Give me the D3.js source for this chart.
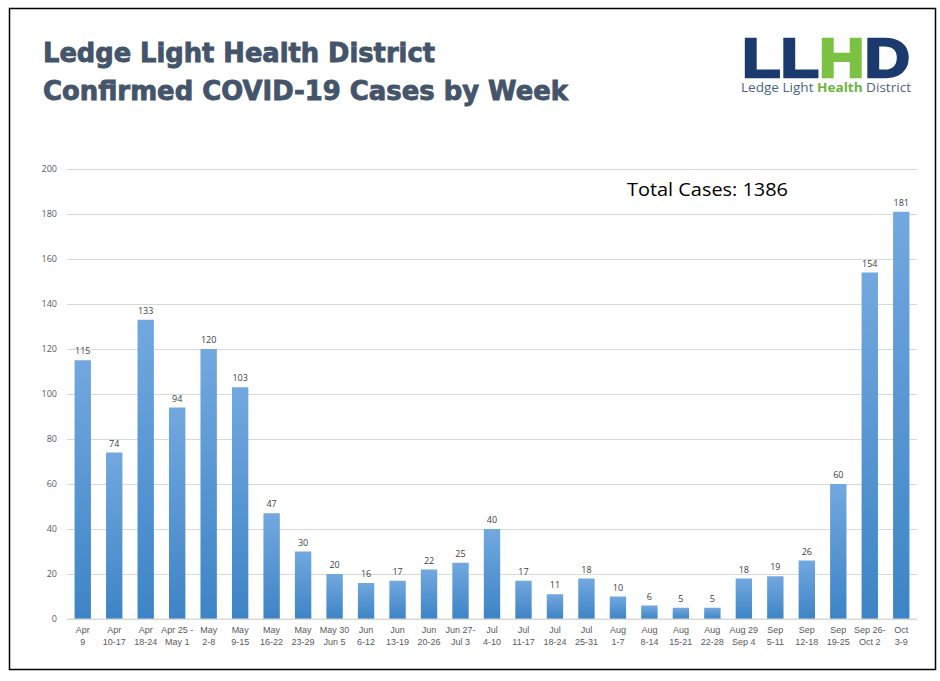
<!DOCTYPE html>
<html>
<head>
<meta charset="utf-8">
<script src="https://cdn.jsdelivr.net/npm/d3@7"></script>
<style>
  body { margin: 0; background: #fff; }
  svg { display: block; }
</style>
</head>
<body>
<div id="chart"></div>
<script>
// weekly confirmed cases
let weeks = [
  ["Apr", "9"], ["Apr", "10-17"], ["Apr", "18-24"], ["Apr 25 -", "May 1"],
  ["May", "2-8"], ["May", "9-15"], ["May", "16-22"], ["May", "23-29"],
  ["May 30", "Jun 5"], ["Jun", "6-12"], ["Jun", "13-19"], ["Jun", "20-26"],
  ["Jun 27-", "Jul 3"], ["Jul", "4-10"], ["Jul", "11-17"], ["Jul", "18-24"],
  ["Jul", "25-31"], ["Aug", "1-7"], ["Aug", "8-14"], ["Aug", "15-21"],
  ["Aug", "22-28"], ["Aug 29", "Sep 4"], ["Sep", "5-11"], ["Sep", "12-18"],
  ["Sep", "19-25"], ["Sep 26-", "Oct 2"], ["Oct", "3-9"]
];
let cases = [115, 74, 133, 94, 120, 103, 47, 30, 20, 16, 17, 22, 25, 40, 17, 11,
  18, 10, 6, 5, 5, 18, 19, 26, 60, 154, 181];
let yTicks = [0, 20, 40, 60, 80, 100, 120, 140, 160, 180, 200];
let totalCases = 1386;

let w = 940;
let h = 681;

let viz = d3.select("#chart")
  .append("svg")
  .attr("width", w)
  .attr("height", h);

// bar gradient, lighter at the top
let grad = viz.append("defs").append("linearGradient")
  .attr("id", "barGrad")
  .attr("x1", 0).attr("y1", 0).attr("x2", 0).attr("y2", 1);
grad.append("stop").attr("offset", "0%").attr("stop-color", "#72a8df");
grad.append("stop").attr("offset", "100%").attr("stop-color", "#3d84c6");

// page frame
viz.append("rect")
  .attr("x", 9.5).attr("y", 8.5)
  .attr("width", 926).attr("height", 661)
  .attr("fill", "none")
  .attr("stroke", "#000")
  .attr("stroke-width", 1.5);

// title
let title = viz.append("text")
  .attr("fill", "#44546a")
  .attr("stroke", "#44546a")
  .attr("stroke-width", 0.9)
  .attr("font-family", "'DejaVu Sans', sans-serif")
  .attr("font-weight", "bold")
  .attr("font-size", 27);
title.append("tspan").attr("x", 43).attr("y", 62)
  .attr("textLength", 392).attr("lengthAdjust", "spacingAndGlyphs")
  .text("Ledge Light Health District");
title.append("tspan").attr("x", 43).attr("y", 100)
  .attr("textLength", 525).attr("lengthAdjust", "spacingAndGlyphs")
  .text("Confirmed COVID-19 Cases by Week");

// logo
let logo = viz.append("g").attr("transform", "translate(741,0)");
let big = logo.append("text")
  .attr("x", 1).attr("y", 77)
  .attr("font-family", "'Liberation Sans', Arial, sans-serif")
  .attr("font-weight", "bold")
  .attr("font-size", 56)
  .attr("stroke-width", 2.5)
  .attr("textLength", 168).attr("lengthAdjust", "spacingAndGlyphs");
big.append("tspan").attr("fill", "#1b3a6e").attr("stroke", "#1b3a6e").text("LL");
big.append("tspan").attr("fill", "#7cc242").attr("stroke", "#7cc242").text("H");
big.append("tspan").attr("fill", "#1b3a6e").attr("stroke", "#1b3a6e").text("D");
let small = logo.append("text")
  .attr("x", 0).attr("y", 92)
  .attr("font-family", "'Open Sans', sans-serif")
  .attr("font-size", 12.5)
  .attr("textLength", 170).attr("lengthAdjust", "spacingAndGlyphs");
small.append("tspan").attr("fill", "#4a6488").text("Ledge Light ");
small.append("tspan").attr("fill", "#6db33f").attr("font-weight", "bold").text("Health");
small.append("tspan").attr("fill", "#4a6488").text(" District");

// scales
let xScale = d3.scaleBand()
  .domain(d3.range(cases.length))
  .range([67, 917])
  .paddingInner(0.48)
  .paddingOuter(0.24);
let yScale = d3.scaleLinear()
  .domain([0, 200])
  .range([619, 169]);

// grid + y axis
let yAxis = d3.axisLeft(yScale)
  .tickValues(yTicks)
  .tickSize(-(917 - 67))
  .tickPadding(10);
let yAxisGroup = viz.append("g")
  .attr("transform", "translate(67,0)")
  .call(yAxis);
yAxisGroup.select(".domain").remove();
yAxisGroup.selectAll("line")
  .attr("stroke", "#d9d9d9")
  .attr("stroke-width", 1);
yAxisGroup.selectAll("text")
  .attr("fill", "#595959")
  .attr("font-family", "'Open Sans', sans-serif")
  .attr("font-size", 9);

// bars
let barGroup = viz.append("g").classed("bars", true);
barGroup.selectAll("rect")
  .data(cases)
  .enter()
  .append("rect")
  .attr("x", function (d, i) { return xScale(i); })
  .attr("y", function (d) { return yScale(d); })
  .attr("width", xScale.bandwidth())
  .attr("height", function (d) { return yScale(0) - yScale(d); })
  .attr("fill", "url(#barGrad)");

// value labels
barGroup.selectAll("text")
  .data(cases)
  .enter()
  .append("text")
  .attr("x", function (d, i) { return xScale(i) + xScale.bandwidth() / 2; })
  .attr("y", function (d) { return yScale(d) - 6; })
  .attr("text-anchor", "middle")
  .attr("fill", "#404040")
  .attr("font-family", "'Open Sans', sans-serif")
  .attr("font-size", 9)
  .text(function (d) { return d; });

// baseline
viz.append("line")
  .attr("x1", 67).attr("x2", 917)
  .attr("y1", yScale(0)).attr("y2", yScale(0))
  .attr("stroke", "#d9d9d9");

// x labels, two lines each
let xLab = viz.append("g")
  .attr("font-family", "'Liberation Sans', Arial, sans-serif")
  .attr("font-size", 9)
  .attr("fill", "#595959")
  .attr("text-anchor", "middle");
xLab.selectAll("text")
  .data(weeks)
  .enter()
  .append("text")
  .each(function (d, i) {
    let cx = xScale(i) + xScale.bandwidth() / 2;
    d3.select(this).append("tspan").attr("x", cx).attr("y", 633).text(d[0]);
    d3.select(this).append("tspan").attr("x", cx).attr("y", 644.5).text(d[1]);
  });

// total
viz.append("text")
  .attr("x", 627).attr("y", 196)
  .attr("font-family", "'Open Sans', sans-serif")
  .attr("font-size", 19)
  .attr("fill", "#000")
  .attr("textLength", 161).attr("lengthAdjust", "spacingAndGlyphs")
  .text("Total Cases: " + totalCases);
</script>
</body>
</html>
